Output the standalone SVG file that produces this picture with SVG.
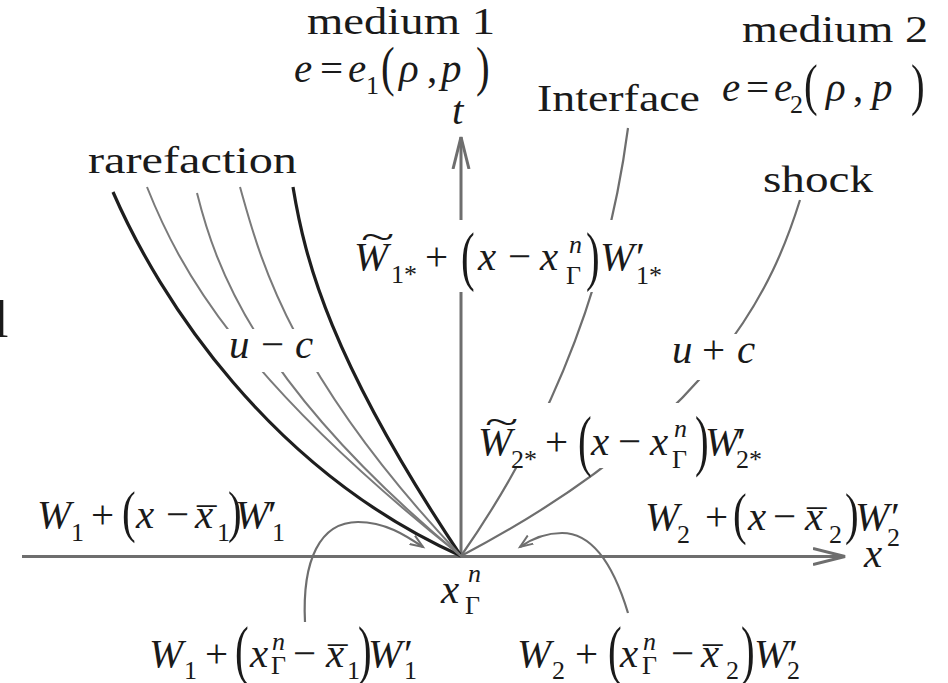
<svg xmlns="http://www.w3.org/2000/svg" width="948" height="683" viewBox="0 0 948 683">
<defs>
<style>
.m{font-family:"Liberation Serif","Times New Roman",serif;font-size:41px;fill:#1a1a1a}
.i{font-style:italic}
.s{font-size:26px}
.w{font-size:38px}
.bg{fill:#fff}
.ax{stroke:#6e6e6e;stroke-width:3;fill:none}
.th{stroke:#1e1e1e;stroke-width:3.2;fill:none}
.gr{stroke:#7a7a7a;stroke-width:2;fill:none}
.ld{stroke:#6e6e6e;stroke-width:2.2;fill:none}
</style>
<marker id="ax" markerUnits="userSpaceOnUse" markerWidth="36" markerHeight="22" refX="32" refY="10" orient="auto"><path d="M0,2 L32,10 L0,18" fill="none" stroke="#6e6e6e" stroke-width="3"/></marker>
<marker id="sa" markerUnits="userSpaceOnUse" markerWidth="16" markerHeight="12" refX="13" refY="6" orient="auto"><path d="M0,1 L13,6 L0,11" fill="none" stroke="#6e6e6e" stroke-width="2"/></marker>
<mask id="mk" maskUnits="userSpaceOnUse" x="0" y="0" width="948" height="683"><rect width="948" height="683" fill="#fff"/><rect x="222" y="329" width="100" height="43" fill="#000"/></mask>
</defs>
<rect width="948" height="683" fill="#fff"/>

<g id="connectors">
<path class="ax" d="M22,556.5 H845" marker-end="url(#ax)"/>
<path class="ax" d="M461,556 V137" marker-end="url(#ax)"/>
<path class="th" d="M113,192 C160,300 270,470 461,556"/>
<path class="th" d="M293,187 C305,260 330,360 461,556"/>
<g mask="url(#mk)">
<path class="gr" d="M147,187 C180,270 240,380 461,556"/>
<path class="gr" d="M197,193 C215,265 255,385 461,556"/>
<path class="gr" d="M240,187 C258,250 285,370 461,556"/>
</g>
<path class="ld" d="M628,128 C612,250 570,400 461,556"/>
<path class="ld" d="M800,200 C775,280 720,420 461,556"/>
<path class="ld" d="M305,622 C302,560 320,522 358,522 C385,522 405,535 423,547" marker-end="url(#sa)"/>
<path class="ld" d="M628,613 C615,570 595,533 562,533 C545,533 530,540 520,547" marker-end="url(#sa)"/>
</g>

<g id="medium1"><text class="m w" x="307" y="34" textLength="188" lengthAdjust="spacingAndGlyphs">medium 1</text></g>
<g id="medium2"><text class="m w" x="742" y="42" textLength="186" lengthAdjust="spacingAndGlyphs">medium 2</text></g>
<g id="interface"><text class="m w" x="537" y="111" textLength="163" lengthAdjust="spacingAndGlyphs">Interface</text></g>
<g id="rarefaction"><text class="m w" x="88" y="173" textLength="209" lengthAdjust="spacingAndGlyphs">rarefaction</text></g>
<g id="shock"><text class="m w" x="763" y="192" textLength="110" lengthAdjust="spacingAndGlyphs">shock</text></g>
<g id="tlabel"><text class="m i" x="452" y="124">t</text></g>
<g id="xlabel"><text class="m i" x="864" y="567">x</text></g>
<g id="cut"><text class="m" style="font-size:52px" x="-6" y="337">l</text></g>

<g id="eos1">
<text class="m"><tspan class="i" x="294" y="82">e</tspan><tspan x="320" y="82">=</tspan><tspan class="i" x="348" y="82">e</tspan><tspan class="s" x="366" y="94">1</tspan><tspan class="i" x="399" y="82">ρ</tspan><tspan x="427" y="82">,</tspan><tspan class="i" x="441" y="82">p</tspan></text>
<text class="m" transform="translate(381,85) scale(1,1.35)">(</text>
<text class="m" transform="translate(476,85) scale(1,1.35)">)</text>
</g>

<g id="eos2">
<text class="m"><tspan class="i" x="722" y="101">e</tspan><tspan x="746" y="101">=</tspan><tspan class="i" x="774" y="101">e</tspan><tspan class="s" x="790" y="113">2</tspan><tspan class="i" x="826" y="101">ρ</tspan><tspan x="853" y="101">,</tspan><tspan class="i" x="872" y="101">p</tspan></text>
<text class="m" transform="translate(804,104) scale(1,1.4)">(</text>
<text class="m" transform="translate(911,104) scale(1,1.4)">)</text>
</g>

<g id="state1star">
<rect class="bg" x="350" y="220" width="315" height="72"/>
<text class="m"><tspan class="i" x="354" y="270">W</tspan><tspan class="s" x="391" y="283">1*</tspan><tspan x="425" y="270">+</tspan><tspan class="i" x="478" y="270">x</tspan><tspan x="508" y="270">−</tspan><tspan class="i" x="540" y="270">x</tspan><tspan class="s i" x="569" y="253">n</tspan><tspan class="s" x="566" y="284">Γ</tspan><tspan class="i" x="600" y="270">W</tspan><tspan x="636" y="270">′</tspan><tspan class="s" x="636" y="284">1*</tspan></text>
<text class="m" transform="translate(361,249) scale(1.5,0.9)">~</text>
<text class="m" transform="translate(461,278) scale(1,1.6)">(</text>
<text class="m" transform="translate(586,278) scale(1,1.6)">)</text>
</g>

<g id="state2star">
<rect class="bg" x="475" y="403" width="290" height="65"/>
<text class="m"><tspan class="i" x="478" y="455">W</tspan><tspan class="s" x="511" y="468">2*</tspan><tspan x="545" y="455">+</tspan><tspan class="i" x="591" y="455">x</tspan><tspan x="618" y="455">−</tspan><tspan class="i" x="650" y="455">x</tspan><tspan class="s i" x="674" y="437">n</tspan><tspan class="s" x="672" y="468">Γ</tspan><tspan class="i" x="705" y="455">W</tspan><tspan x="737" y="455">′</tspan><tspan class="s" x="736" y="468">2*</tspan></text>
<text class="m" transform="translate(485,434) scale(1.5,0.9)">~</text>
<text class="m" transform="translate(578,463) scale(1,1.65)">(</text>
<text class="m" transform="translate(695,463) scale(1,1.65)">)</text>
</g>

<g id="umc">
<text class="m"><tspan class="i" x="229" y="358">u</tspan><tspan x="261" y="358">−</tspan><tspan class="i" x="295" y="358">c</tspan></text>
</g>

<g id="upc">
<rect class="bg" x="665" y="334" width="100" height="46"/>
<text class="m"><tspan class="i" x="672" y="363">u</tspan><tspan x="702" y="363">+</tspan><tspan class="i" x="737" y="363">c</tspan></text>
</g>

<g id="left-state">
<text class="m"><tspan class="i" x="37" y="528">W</tspan><tspan class="s" x="71" y="541">1</tspan><tspan x="91" y="528">+</tspan><tspan class="i" x="136" y="528">x</tspan><tspan x="166" y="528">−</tspan><tspan class="i" x="195" y="528">x</tspan><tspan class="s" x="217" y="541">1</tspan><tspan class="i" x="235" y="528">W</tspan><tspan x="268" y="528">′</tspan><tspan class="s" x="272" y="541">1</tspan></text>
<text class="m" transform="translate(197,536) scale(0.95,1)">¯</text>
<text class="m" transform="translate(122,531) scale(1,1.4)">(</text>
<text class="m" transform="translate(228,531) scale(1,1.4)">)</text>
</g>

<g id="right-state">
<text class="m"><tspan class="i" x="645" y="530">W</tspan><tspan class="s" x="677" y="543">2</tspan><tspan x="705" y="530">+</tspan><tspan class="i" x="748" y="530">x</tspan><tspan x="773" y="530">−</tspan><tspan class="i" x="805" y="530">x</tspan><tspan class="s" x="829" y="543">2</tspan><tspan class="i" x="855" y="530">W</tspan><tspan x="891" y="530">′</tspan><tspan class="s" x="887" y="546">2</tspan></text>
<text class="m" transform="translate(807,538) scale(0.95,1)">¯</text>
<text class="m" transform="translate(733,533) scale(1,1.4)">(</text>
<text class="m" transform="translate(845,533) scale(1,1.4)">)</text>
</g>

<g id="xgamma">
<text class="m"><tspan class="i" x="441" y="603">x</tspan><tspan class="s i" x="468" y="582">n</tspan><tspan class="s" x="465" y="614">Γ</tspan></text>
</g>

<g id="left-interface-state">
<text class="m"><tspan class="i" x="149" y="667">W</tspan><tspan class="s" x="184" y="679">1</tspan><tspan x="205" y="667">+</tspan><tspan class="i" x="250" y="667">x</tspan><tspan class="s i" x="272" y="650">n</tspan><tspan class="s" x="271" y="674">Γ</tspan><tspan x="293" y="667">−</tspan><tspan class="i" x="326" y="667">x</tspan><tspan class="s" x="347" y="679">1</tspan><tspan class="i" x="368" y="667">W</tspan><tspan x="404" y="667">′</tspan><tspan class="s" x="404" y="679">1</tspan></text>
<text class="m" transform="translate(328,675) scale(0.95,1)">¯</text>
<text class="m" transform="translate(235,672) scale(1,1.6)">(</text>
<text class="m" transform="translate(358,672) scale(1,1.6)">)</text>
</g>

<g id="right-interface-state">
<text class="m"><tspan class="i" x="517" y="667">W</tspan><tspan class="s" x="552" y="679">2</tspan><tspan x="575" y="667">+</tspan><tspan class="i" x="620" y="667">x</tspan><tspan class="s i" x="643" y="650">n</tspan><tspan class="s" x="642" y="674">Γ</tspan><tspan x="671" y="667">−</tspan><tspan class="i" x="701" y="667">x</tspan><tspan class="s" x="726" y="679">2</tspan><tspan class="i" x="754" y="667">W</tspan><tspan x="789" y="667">′</tspan><tspan class="s" x="787" y="679">2</tspan></text>
<text class="m" transform="translate(703,675) scale(0.95,1)">¯</text>
<text class="m" transform="translate(608,672) scale(1,1.6)">(</text>
<text class="m" transform="translate(741,672) scale(1,1.6)">)</text>
</g>
</svg>
